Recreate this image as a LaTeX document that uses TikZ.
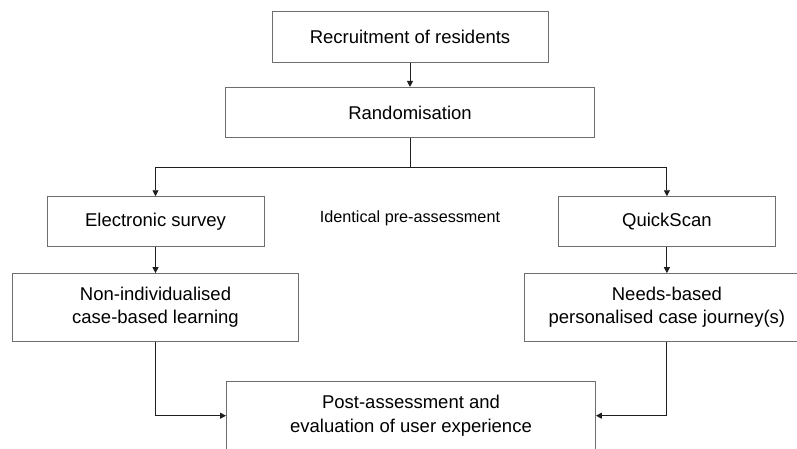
\documentclass[tikz,border=0pt]{standalone}
\usepackage{fontspec}
\setmainfont{Liberation Sans}
\usepackage{tikz}
\usetikzlibrary{arrows.meta, positioning, calc}
\definecolor{boxgray}{RGB}{110,110,110}
\definecolor{linegray}{RGB}{30,30,30}
\tikzset{every node/.append style={align=center}}
\tikzset{
  box/.style={rectangle, draw=boxgray, line width=0.9pt, fill=white,
    minimum height=50pt, text centered, font=\fontsize{18.5}{23.3}\selectfont},
  tall/.style={box, minimum height=67.5pt},
  arrow/.style={-{Triangle[length=6pt,width=6pt]}, line width=0.9pt, linegray},
  lbl/.style={font=\fontsize{16.2}{19}\selectfont, text=black}
}
\begin{document}
\begin{tikzpicture}[x=1pt, y=1pt]
  \useasboundingbox (0,0) rectangle (797,448);
  \clip (0,0) rectangle (797,448);
  \node[box, minimum width=276pt, minimum height=51pt] (rec) at (410,411) {Recruitment of residents};
  \node[box, minimum width=369pt, below=24pt of rec] (rnd) {Randomisation};
  \node[box, minimum width=217pt] (esv) at (155.5,226.3) {Electronic survey};
  \node[box, minimum width=217pt, right=293.5pt of esv] (qs) {QuickScan};
  \node[lbl] (pre) at ($(rnd |- esv)+(0,3.5)$) {Identical pre-assessment};
  \node[tall, minimum width=285.5pt, below=26pt of esv] (nil) {Non-individualised\\case-based learning};
  \node[tall, minimum width=284pt, below=26pt of qs] (nbp) {Needs-based\\personalised case journey(s)};
  \node[tall, minimum width=369pt, minimum height=68pt] (post) at (411,32.3) {Post-assessment and\\evaluation of user experience};
  \draw[arrow] (rec) -- (rnd);
  \draw[arrow] (rnd.south) -- ++(0,-30) -| (esv.north);
  \draw[arrow] (rnd.south) -- ++(0,-30) -| (qs.north);
  \draw[arrow] (esv) -- (nil);
  \draw[arrow] (qs) -- (nbp);
  \draw[arrow] (nil.south) |- (post.west);
  \draw[arrow] (nbp.south) |- (post.east);
\end{tikzpicture}
\end{document}
